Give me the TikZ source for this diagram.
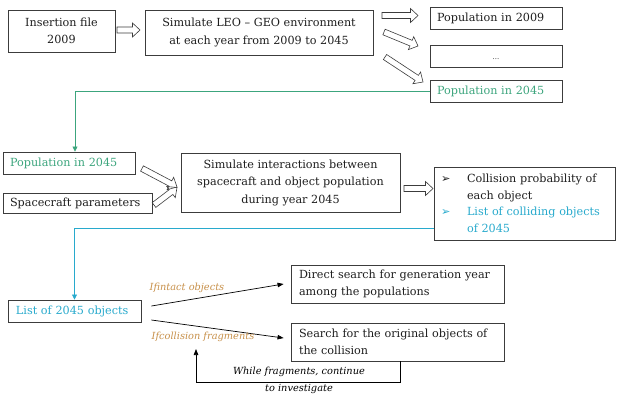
\documentclass[tikz,border=0pt]{standalone}
\usepackage{fontspec}
\setmainfont{DejaVu Serif}
\newfontfamily\symf{DejaVu Sans}
\usetikzlibrary{arrows.meta,calc}
\definecolor{boxc}{RGB}{60,60,60}
\definecolor{greenc}{RGB}{60,165,125}
\definecolor{cyanc}{RGB}{40,170,205}
\definecolor{orangec}{RGB}{200,145,75}
\definecolor{txtc}{RGB}{30,30,30}
\tikzset{
  box/.style={draw=boxc, line width=0.9pt, inner sep=0pt, text=txtc, font=\fontsize{11.2pt}{17.5pt}\selectfont},
  lbox/.style={box, align=left, inner xsep=7pt},
  hollowarr/.style={draw=boxc, line width=0.6pt, line join=miter},
  conn/.style={line width=0.7pt},
  lbl/.style={font=\fontsize{9.8pt}{17pt}\selectfont\itshape, inner sep=0pt},
}
\newcommand\blockarrow[2]{%
 \draw[hollowarr] let \p1=(#1),\p2=(#2),\n1={atan2(\y2-\y1,\x2-\x1)},\n2={veclen(\x2-\x1,\y2-\y1)} in
 ($(\p1)+({\n1+90}:3pt)$) -- ($(\p1)+(\n1:{(\n2-7.5)*1pt})+({\n1+90}:3pt)$) -- ($(\p1)+(\n1:{(\n2-7.5)*1pt})+({\n1+90}:7pt)$) -- (\p2) -- ($(\p1)+(\n1:{(\n2-7.5)*1pt})+({\n1-90}:7pt)$) -- ($(\p1)+(\n1:{(\n2-7.5)*1pt})+({\n1-90}:3pt)$) -- ($(\p1)+({\n1-90}:3pt)$) -- cycle;}
\begin{document}
\begin{tikzpicture}[x=1pt,y=-1pt]
\useasboundingbox[fill=white] (0,0) rectangle (620,400);
% top row
\node[box, minimum width=107pt, minimum height=42pt, align=center] (ins) at (61.5,31) {Insertion file\\2009};
\node[box, minimum width=228pt, minimum height=45pt, align=center] (sim) at (259,32.5) {Simulate LEO -- GEO environment\\at each year from 2009 to 2045};
\node[lbox, minimum height=22pt, text width=118pt] (p09) at (496,18) {Population in 2009};
\node[box, minimum width=132pt, minimum height=22pt] (dots) at (496,56) {\smash{\raisebox{-3.5pt}{\fontsize{7pt}{8pt}\selectfont...}}};
\node[lbox, minimum height=22pt, text width=118pt, text=greenc] (p45) at (496,91) {Population in 2045};
% middle row
\node[lbox, minimum height=22pt, text width=118pt, text=greenc] (p45b) at (69,163) {Population in 2045};
\node[lbox, minimum height=20pt, text width=135pt] (scp) at (77.5,203) {Spacecraft parameters};
\node[box, minimum width=219pt, minimum height=59pt, align=center] (simi) at (290.5,182.5) {Simulate interactions between\\spacecraft and object population\\during year 2045};
\node[lbox, minimum height=73pt, text width=167pt, font=\fontsize{11.2pt}{16.5pt}\selectfont] (res) at (524.5,203.5) {%
\makebox[26pt][l]{\symf ➢}Collision probability of\\
\hspace*{26pt}each object\\
{\color{cyanc}\makebox[26pt][l]{\symf ➢}List of colliding objects}\\
{\color{cyanc}\hspace*{26pt}of 2045}};
% bottom row
\node[lbox, inner xsep=8pt, minimum height=22pt, text width=117pt, text=cyanc] (lst) at (74.5,311) {List of 2045 objects};
\node[lbox, inner xsep=8pt, minimum height=38pt, text width=197pt] (dir) at (397.5,284) {Direct search for generation year\\among the populations};
\node[lbox, inner xsep=8pt, minimum height=38pt, text width=197pt] (srch) at (397.5,342) {Search for the original objects of\\the collision};
% hollow arrows
\coordinate (a1s) at (117,30); \coordinate (a1e) at (140,30);
\coordinate (a2s) at (382,15.5); \coordinate (a2e) at (418,15.5);
\coordinate (a3s) at (384,32); \coordinate (a3e) at (418,46);
\coordinate (a4s) at (385,57); \coordinate (a4e) at (423,82);
\coordinate (a5s) at (142,168.5); \coordinate (a5e) at (177,187);
\coordinate (a6s) at (154,205); \coordinate (a6e) at (177,187.5);
\coordinate (a7s) at (404,188.5); \coordinate (a7e) at (433,188.5);
\blockarrow{a1s}{a1e}
\blockarrow{a2s}{a2e}
\blockarrow{a3s}{a3e}
\blockarrow{a4s}{a4e}
\blockarrow{a5s}{a5e}
\blockarrow{a6s}{a6e}
\blockarrow{a7s}{a7e}
% connectors
\draw[conn, greenc, -{Triangle[length=5pt,width=5pt]}] (p45.west) -| ([xshift=6pt]p45b.north);
\draw[conn, cyanc, -{Triangle[length=5pt,width=5pt]}] ([yshift=-24.5pt]res.west) -| (lst.north);
\draw[conn, -{Triangle[length=6pt,width=4.5pt]}] ([xshift=10pt,yshift=5pt]lst.east) -- ([xshift=-7pt]dir.west);
\draw[conn, -{Triangle[length=6pt,width=4.5pt]}] ([xshift=10pt,yshift=-9pt]lst.east) -- ([xshift=-7pt,yshift=4pt]srch.west);
\coordinate (loopend) at (196,349);
\draw[conn, -{Triangle[length=6pt,width=4.5pt]}] ([xshift=2.5pt]srch.south) -- ++(0,21) -| (loopend);
% labels
\node[lbl, text=orangec] (l1) at (187,288) {Ifintact objects};
\node[lbl, text=orangec] (l2) at (203,337) {Ifcollision fragments};
\node[lbl, align=center] (l3) at (299,380) {While fragments, continue\\to investigate};
\end{tikzpicture}
\end{document}
